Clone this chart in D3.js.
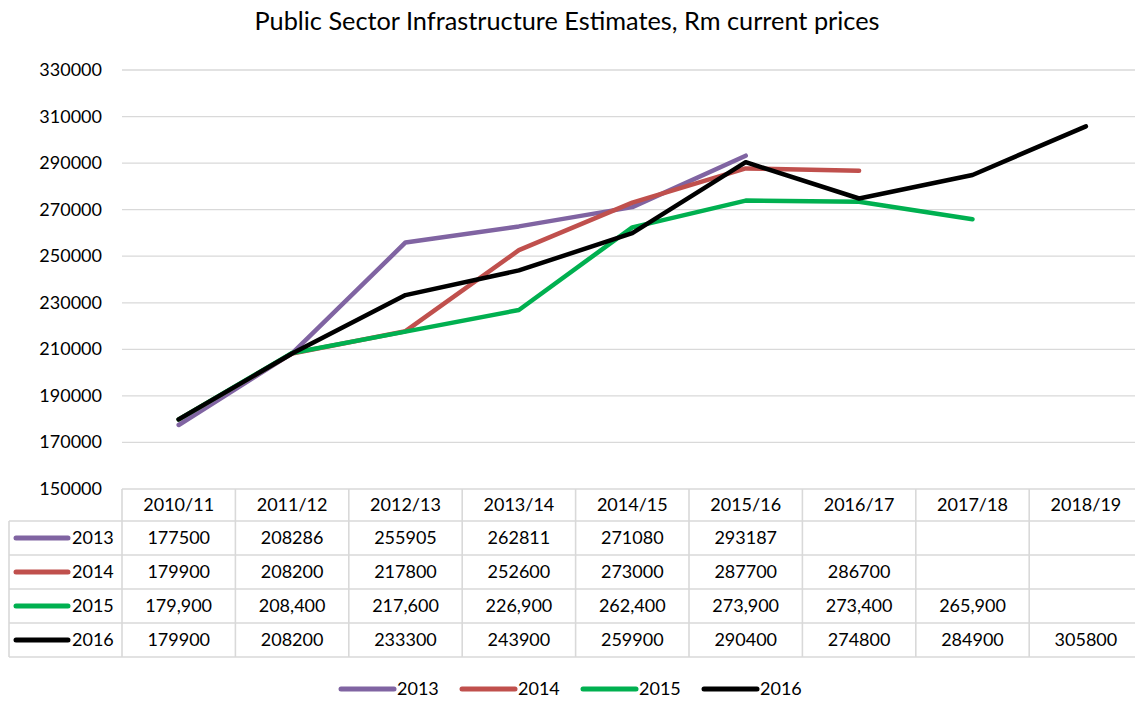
<!DOCTYPE html>
<html>
<head>
<meta charset="utf-8">
<script src="https://cdn.jsdelivr.net/npm/d3@7"></script>
<style>
  body { margin: 0; background: #fff; }
  svg { display: block; font-family: Lato, "Open Sans", sans-serif; }
</style>
</head>
<body>
<div id="chart"></div>
<script>
// data
const years = ['2010/11', '2011/12', '2012/13', '2013/14', '2014/15', '2015/16', '2016/17', '2017/18', '2018/19'];
const seriesNames = ['2013', '2014', '2015', '2016'];
const s2013 = [177500, 208286, 255905, 262811, 271080, 293187];
const s2014 = [179900, 208200, 217800, 252600, 273000, 287700, 286700];
const s2015 = [179900, 208400, 217600, 226900, 262400, 273900, 273400, 265900];
const s2016 = [179900, 208200, 233300, 243900, 259900, 290400, 274800, 284900, 305800];
const yTicks = [150000, 170000, 190000, 210000, 230000, 250000, 270000, 290000, 310000, 330000];
const colors = ['#8064a2', '#c0504d', '#00b050', '#000000'];
const commaSeries = ['2015']; // this row is shown with thousands separators

const series = seriesNames.map((name, i) => ({
  name, color: colors[i], values: [s2013, s2014, s2015, s2016][i]
}));

const width = 1135, height = 702;
const plotLeft = 122, colW = 113.4;
const plotTop = 70, plotBottom = 489;
const headH = 32, rowH = 34;
const fs = 18;

const svg = d3.select('#chart').append('svg')
  .attr('width', width)
  .attr('height', height);

const x = d3.scaleBand()
  .domain(years)
  .range([plotLeft, plotLeft + colW * years.length]);

const y = d3.scaleLinear()
  .domain([150000, 330000])
  .range([plotBottom, plotTop]);

// title
svg.append('text')
  .attr('x', 567).attr('y', 30)
  .attr('text-anchor', 'middle')
  .attr('font-size', 25.3)
  .attr('fill', '#000')
  .text('Public Sector Infrastructure Estimates, Rm current prices');

// gridlines
svg.append('g')
  .selectAll('line')
  .data(yTicks.slice(1))
  .join('line')
  .attr('x1', plotLeft).attr('x2', width)
  .attr('y1', d => y(d)).attr('y2', d => y(d))
  .attr('stroke', '#d9d9d9')
  .attr('stroke-width', 1.3);

// y labels
svg.append('g')
  .selectAll('text')
  .data(yTicks)
  .join('text')
  .attr('x', 102)
  .attr('y', d => y(d) + 6)
  .attr('text-anchor', 'end')
  .attr('font-size', fs)
  .text(d => d);

// lines
const line = d3.line()
  .x((d, i) => x(years[i]) + x.bandwidth() / 2)
  .y(d => y(d));

svg.append('g')
  .selectAll('path')
  .data(series)
  .join('path')
  .attr('d', d => line(d.values))
  .attr('fill', 'none')
  .attr('stroke', d => d.color)
  .attr('stroke-width', 4.5)
  .attr('stroke-linejoin', 'round')
  .attr('stroke-linecap', 'round');

// data table
const tbl = svg.append('g');
const gridCol = '#d9d9d9';
const tableBottom = plotBottom + headH + rowH * series.length;

// horizontal rules
tbl.append('line')
  .attr('x1', plotLeft).attr('x2', width)
  .attr('y1', plotBottom).attr('y2', plotBottom)
  .attr('stroke', gridCol).attr('stroke-width', 1.6);
d3.range(series.length + 1).forEach(i => {
  const yy = plotBottom + headH + rowH * i;
  tbl.append('line')
    .attr('x1', 9).attr('x2', width)
    .attr('y1', yy).attr('y2', yy)
    .attr('stroke', gridCol).attr('stroke-width', 1.6);
});
// vertical rules
tbl.append('line')
  .attr('x1', 9).attr('x2', 9)
  .attr('y1', plotBottom + headH).attr('y2', tableBottom)
  .attr('stroke', gridCol).attr('stroke-width', 1.6);
tbl.selectAll('.vcol')
  .data(years)
  .join('line')
  .attr('class', 'vcol')
  .attr('x1', d => x(d)).attr('x2', d => x(d))
  .attr('y1', plotBottom).attr('y2', tableBottom)
  .attr('stroke', gridCol).attr('stroke-width', 1.6);

// header
tbl.selectAll('.head')
  .data(years)
  .join('text')
  .attr('class', 'head')
  .attr('x', d => x(d) + x.bandwidth() / 2)
  .attr('y', plotBottom + headH / 2 + 6)
  .attr('text-anchor', 'middle')
  .attr('font-size', fs)
  .text(d => d);

const fmtComma = d3.format(',');
series.forEach((s, r) => {
  const cy = plotBottom + headH + rowH * r + rowH / 2;
  tbl.append('line')
    .attr('x1', 16).attr('x2', 68)
    .attr('y1', cy).attr('y2', cy)
    .attr('stroke', s.color)
    .attr('stroke-width', 5)
    .attr('stroke-linecap', 'round');
  tbl.append('text')
    .attr('x', 72).attr('y', cy + 6)
    .attr('font-size', fs)
    .text(s.name);
  tbl.selectAll('.v' + s.name)
    .data(s.values)
    .join('text')
    .attr('x', (d, i) => x(years[i]) + x.bandwidth() / 2)
    .attr('y', cy + 6)
    .attr('text-anchor', 'middle')
    .attr('font-size', fs)
    .text(d => commaSeries.includes(s.name) ? fmtComma(d) : d);
});

// bottom legend
const legX = [340, 461, 582, 703];
const leg = svg.append('g');
series.forEach((s, i) => {
  leg.append('line')
    .attr('x1', legX[i] + 1).attr('x2', legX[i] + 54)
    .attr('y1', 689).attr('y2', 689)
    .attr('stroke', s.color)
    .attr('stroke-width', 5)
    .attr('stroke-linecap', 'round');
  leg.append('text')
    .attr('x', legX[i] + 57).attr('y', 695)
    .attr('font-size', fs)
    .text(s.name);
});
</script>
</body>
</html>
